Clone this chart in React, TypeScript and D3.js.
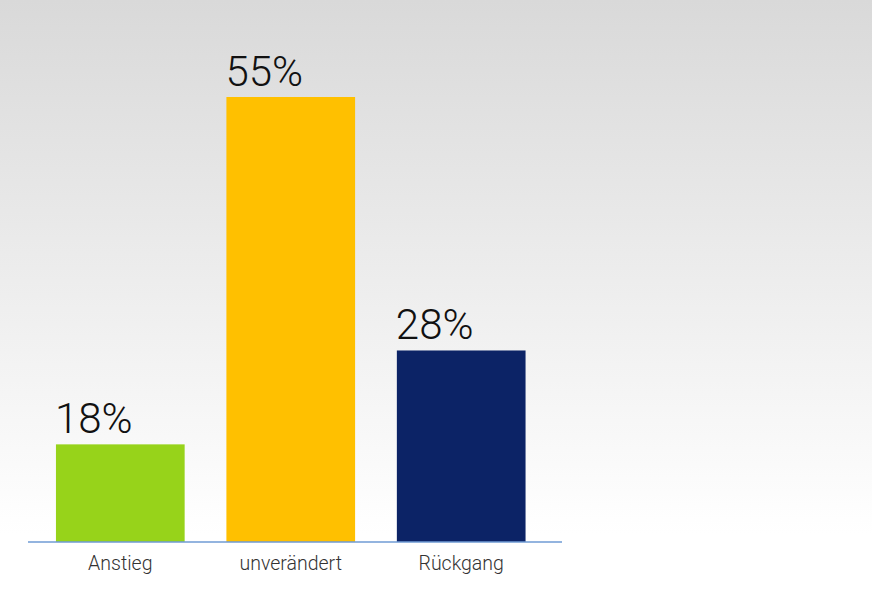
import * as React from 'react';
import * as d3 from 'd3';

const categories = ['Anstieg', 'unverändert', 'Rückgang'];
const values = [18, 55, 28];
const colors = ['#97d31a', '#ffc000', '#0c2366'];

const width = 872;
const height = 607;
const baseY = 542;

export default function App() {
  const x = d3.scaleBand<string>()
    .domain(categories)
    .range([35.5, 546])
    .paddingInner(0.245)
    .paddingOuter(0.12);

  // the original chart's value axis does not start at zero
  const y = d3.scaleLinear()
    .domain([7.6, 55])
    .range([baseY, 97]);

  return (
    <svg
      width={width}
      height={height}
      style={{ position: 'absolute', left: 0, top: 0, display: 'block' }}
      fontFamily="Roboto, 'Noto Sans', sans-serif"
    >
      <defs>
        <linearGradient id="bg" x1="0" y1="0" x2="0" y2="1">
          <stop offset="0" stopColor="#d9d9d9" />
          <stop offset="0.88" stopColor="#ffffff" />
          <stop offset="1" stopColor="#ffffff" />
        </linearGradient>
      </defs>
      <rect x={0} y={0} width={width} height={height} fill="url(#bg)" />
      {categories.map((c, i) => {
        const bx = x(c) as number;
        const top = y(values[i]);
        return (
          <g key={c}>
            <rect x={bx} y={top} width={x.bandwidth()} height={baseY - top} fill={colors[i]} />
            <text x={bx - 1} y={top - 11} fontSize={42} fontWeight={300} fill="#111">
              {values[i]}%
            </text>
            <text
              x={bx + x.bandwidth() / 2}
              y={570}
              fontSize={19.5}
              fontWeight={300}
              fill="#333"
              textAnchor="middle"
            >
              {c}
            </text>
          </g>
        );
      })}
      <line x1={28} x2={562} y1={baseY} y2={baseY} stroke="#6f9bd4" strokeWidth={1.5} />
    </svg>
  );
}
